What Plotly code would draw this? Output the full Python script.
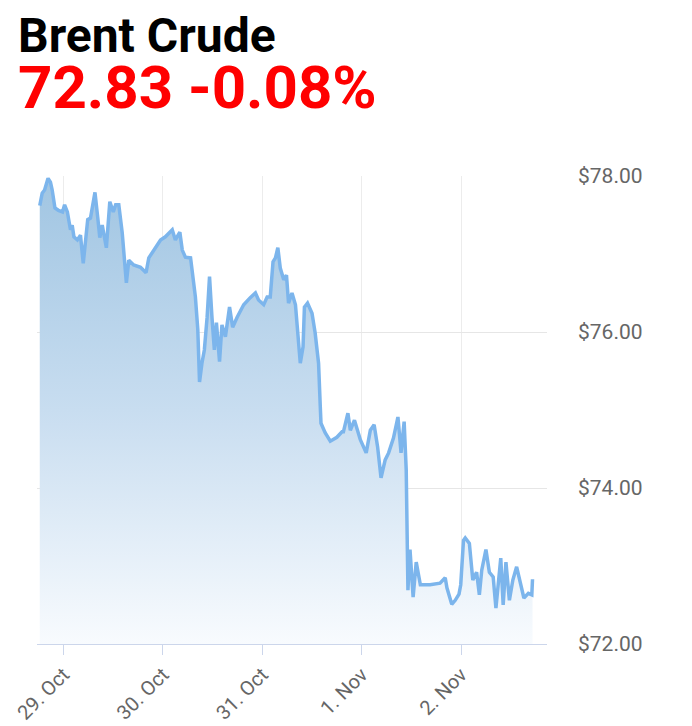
import pandas as pd
import plotly.graph_objs as go


# Brent crude intraday quotes, 28 Oct - 2 Nov 2018
times = [
    "2018-10-28 18:15", "2018-10-28 18:50", "2018-10-28 19:25", "2018-10-28 20:15",
    "2018-10-28 20:50", "2018-10-28 21:15", "2018-10-28 21:55", "2018-10-28 22:45",
    "2018-10-28 23:45", "2018-10-29 00:15", "2018-10-29 00:55", "2018-10-29 01:40",
    "2018-10-29 02:05", "2018-10-29 02:30", "2018-10-29 03:20", "2018-10-29 04:05",
    "2018-10-29 04:45", "2018-10-29 05:20", "2018-10-29 05:50", "2018-10-29 06:30",
    "2018-10-29 07:35", "2018-10-29 08:15", "2018-10-29 08:45", "2018-10-29 09:20",
    "2018-10-29 10:20", "2018-10-29 11:10", "2018-10-29 12:00", "2018-10-29 12:35",
    "2018-10-29 13:20", "2018-10-29 14:10", "2018-10-29 14:45", "2018-10-29 15:10",
    "2018-10-29 15:45", "2018-10-29 16:55", "2018-10-29 18:35", "2018-10-29 19:55",
    "2018-10-29 20:35", "2018-10-29 21:45", "2018-10-29 23:25", "2018-10-30 00:35",
    "2018-10-30 02:15", "2018-10-30 03:00", "2018-10-30 04:05", "2018-10-30 04:40",
    "2018-10-30 05:25", "2018-10-30 06:40", "2018-10-30 07:15", "2018-10-30 07:50",
    "2018-10-30 08:25", "2018-10-30 08:50", "2018-10-30 09:25", "2018-10-30 10:00",
    "2018-10-30 10:40", "2018-10-30 11:15", "2018-10-30 11:50", "2018-10-30 12:25",
    "2018-10-30 12:55", "2018-10-30 13:40", "2018-10-30 14:15", "2018-10-30 15:05",
    "2018-10-30 16:05", "2018-10-30 16:50", "2018-10-30 17:55", "2018-10-30 19:30",
    "2018-10-30 21:05", "2018-10-30 22:20", "2018-10-30 23:05", "2018-10-31 00:20",
    "2018-10-31 01:10", "2018-10-31 01:55", "2018-10-31 02:35", "2018-10-31 03:10",
    "2018-10-31 03:45", "2018-10-31 04:20", "2018-10-31 05:10", "2018-10-31 05:50",
    "2018-10-31 06:20", "2018-10-31 07:10", "2018-10-31 08:00", "2018-10-31 08:35",
    "2018-10-31 09:10", "2018-10-31 09:50", "2018-10-31 10:10", "2018-10-31 10:55",
    "2018-10-31 12:00", "2018-10-31 12:45", "2018-10-31 13:35", "2018-10-31 14:00",
    "2018-10-31 14:10", "2018-10-31 15:10", "2018-10-31 16:25", "2018-10-31 18:00",
    "2018-10-31 19:15", "2018-10-31 19:35", "2018-10-31 20:40", "2018-10-31 21:15",
    "2018-10-31 22:15", "2018-10-31 23:40", "2018-11-01 01:05", "2018-11-01 02:05",
    "2018-11-01 03:00", "2018-11-01 03:50", "2018-11-01 04:40", "2018-11-01 05:40",
    "2018-11-01 06:30", "2018-11-01 07:40", "2018-11-01 08:45", "2018-11-01 09:30",
    "2018-11-01 10:15", "2018-11-01 10:45", "2018-11-01 11:05", "2018-11-01 11:10",
    "2018-11-01 11:40", "2018-11-01 12:25", "2018-11-01 13:10", "2018-11-01 14:10",
    "2018-11-01 16:30", "2018-11-01 18:55", "2018-11-01 20:10", "2018-11-01 20:35",
    "2018-11-01 21:45", "2018-11-01 22:35", "2018-11-01 23:30", "2018-11-01 23:55",
    "2018-11-02 00:35", "2018-11-02 01:00", "2018-11-02 02:00", "2018-11-02 02:50",
    "2018-11-02 03:45", "2018-11-02 04:25", "2018-11-02 05:00", "2018-11-02 06:00",
    "2018-11-02 06:50", "2018-11-02 07:45", "2018-11-02 08:25", "2018-11-02 09:35",
    "2018-11-02 10:10", "2018-11-02 10:50", "2018-11-02 11:40", "2018-11-02 12:30",
    "2018-11-02 13:25", "2018-11-02 14:15", "2018-11-02 15:10", "2018-11-02 16:15",
    "2018-11-02 17:05", "2018-11-02 17:15",
]

prices = [
    77.62, 77.78, 77.82, 77.97, 77.92, 77.82, 77.59, 77.56,
    77.54, 77.63, 77.54, 77.31, 77.37, 77.22, 77.18, 77.24,
    76.88, 77.22, 77.44, 77.46, 77.79, 77.47, 77.21, 77.37,
    77.08, 77.67, 77.54, 77.63, 77.63, 77.27, 76.96, 76.63,
    76.92, 76.86, 76.83, 76.76, 76.95, 77.05, 77.18, 77.22,
    77.31, 77.18, 77.28, 77.05, 76.96, 76.95, 76.71, 76.45,
    76.03, 75.36, 75.60, 75.77, 76.19, 76.71, 76.19, 75.77,
    76.12, 75.62, 76.09, 75.94, 76.32, 76.06, 76.19, 76.35,
    76.44, 76.50, 76.41, 76.35, 76.45, 76.45, 76.90, 76.95,
    77.08, 76.82, 76.67, 76.73, 76.37, 76.50, 76.35, 75.94,
    75.60, 75.81, 76.32, 76.37, 76.24, 75.99, 75.60, 75.04,
    74.83, 74.71, 74.60, 74.65, 74.72, 74.72, 74.96, 74.74,
    74.87, 74.62, 74.45, 74.74, 74.81, 74.53, 74.13, 74.36,
    74.45, 74.64, 74.91, 74.45, 74.85, 74.23, 73.24, 72.69,
    73.21, 72.60, 73.05, 72.76, 72.76, 72.78, 72.85, 72.72,
    72.51, 72.56, 72.64, 72.76, 73.33, 73.36, 73.29, 72.82,
    72.92, 72.63, 72.95, 73.21, 72.92, 72.86, 72.46, 73.10,
    72.50, 73.05, 72.56, 72.82, 72.99, 72.79, 72.59, 72.65,
    72.63, 72.83,
]

day_ticks = ["2018-10-29", "2018-10-30", "2018-10-31", "2018-11-01", "2018-11-02"]
price_ticks = [72, 74, 76, 78]
price_labels = ["$72.00", "$74.00", "$76.00", "$78.00"]

title_text = "Brent Crude"
last_text = "72.83 -0.08%"

df = pd.DataFrame({"time": pd.to_datetime(times), "price": prices})

fig = go.Figure()
fig.add_trace(go.Scatter(
    x=df["time"],
    y=df["price"],
    mode="lines",
    line=dict(color="#7cb5ec", width=3.5),
    fill="tozeroy",
    fillgradient=dict(
        type="vertical",
        start=72,
        stop=78,
        colorscale=[[0, "rgb(248,251,254)"], [0.5, "rgb(200,221,240)"], [1, "rgb(160,197,226)"]],
    ),
    hoverinfo="skip",
    showlegend=False,
))

# page body keeps its default 8px margin, so the figure is 8px smaller
fig.update_layout(
    width=684,
    height=718,
    margin=dict(l=29, r=145, t=168, b=82),
    paper_bgcolor="white",
    plot_bgcolor="white",
    font=dict(family="Roboto, Arial, sans-serif", color="#666666", size=20),
    xaxis=dict(
        type="date",
        range=["2018-10-28 17:35", "2018-11-02 20:45"],
        tickvals=day_ticks,
        tickformat="%-d. %b",
        tickangle=-45,
        ticks="outside",
        ticklen=10,
        tickcolor="#ccd6eb",
        showline=True,
        linecolor="#ccd6eb",
        linewidth=1,
        showgrid=True,
        gridcolor="#ececec",
        zeroline=False,
        automargin=False,
        tickfont=dict(size=20, color="#666666"),
    ),
    yaxis=dict(
        side="right",
        range=[72, 78],
        tickvals=price_ticks,
        ticktext=price_labels,
        showgrid=True,
        gridcolor="#e6e6e6",
        zeroline=False,
        showline=False,
        automargin=False,
        ticklabelstandoff=30,
        tickfont=dict(size=21, color="#666666"),
    ),
    annotations=[
        dict(
            text=title_text, xref="paper", yref="paper",
            x=-0.041, y=1.301, xanchor="left", yanchor="middle",
            showarrow=False,
            font=dict(family="Roboto", size=48, color="black", weight="bold"),
        ),
        dict(
            text=last_text, xref="paper", yref="paper",
            x=-0.041, y=1.190, xanchor="left", yanchor="middle",
            showarrow=False,
            font=dict(family="Roboto", size=60, color="#ff0000", weight="bold"),
        ),
    ],
)

fig.write_html("out.html")
